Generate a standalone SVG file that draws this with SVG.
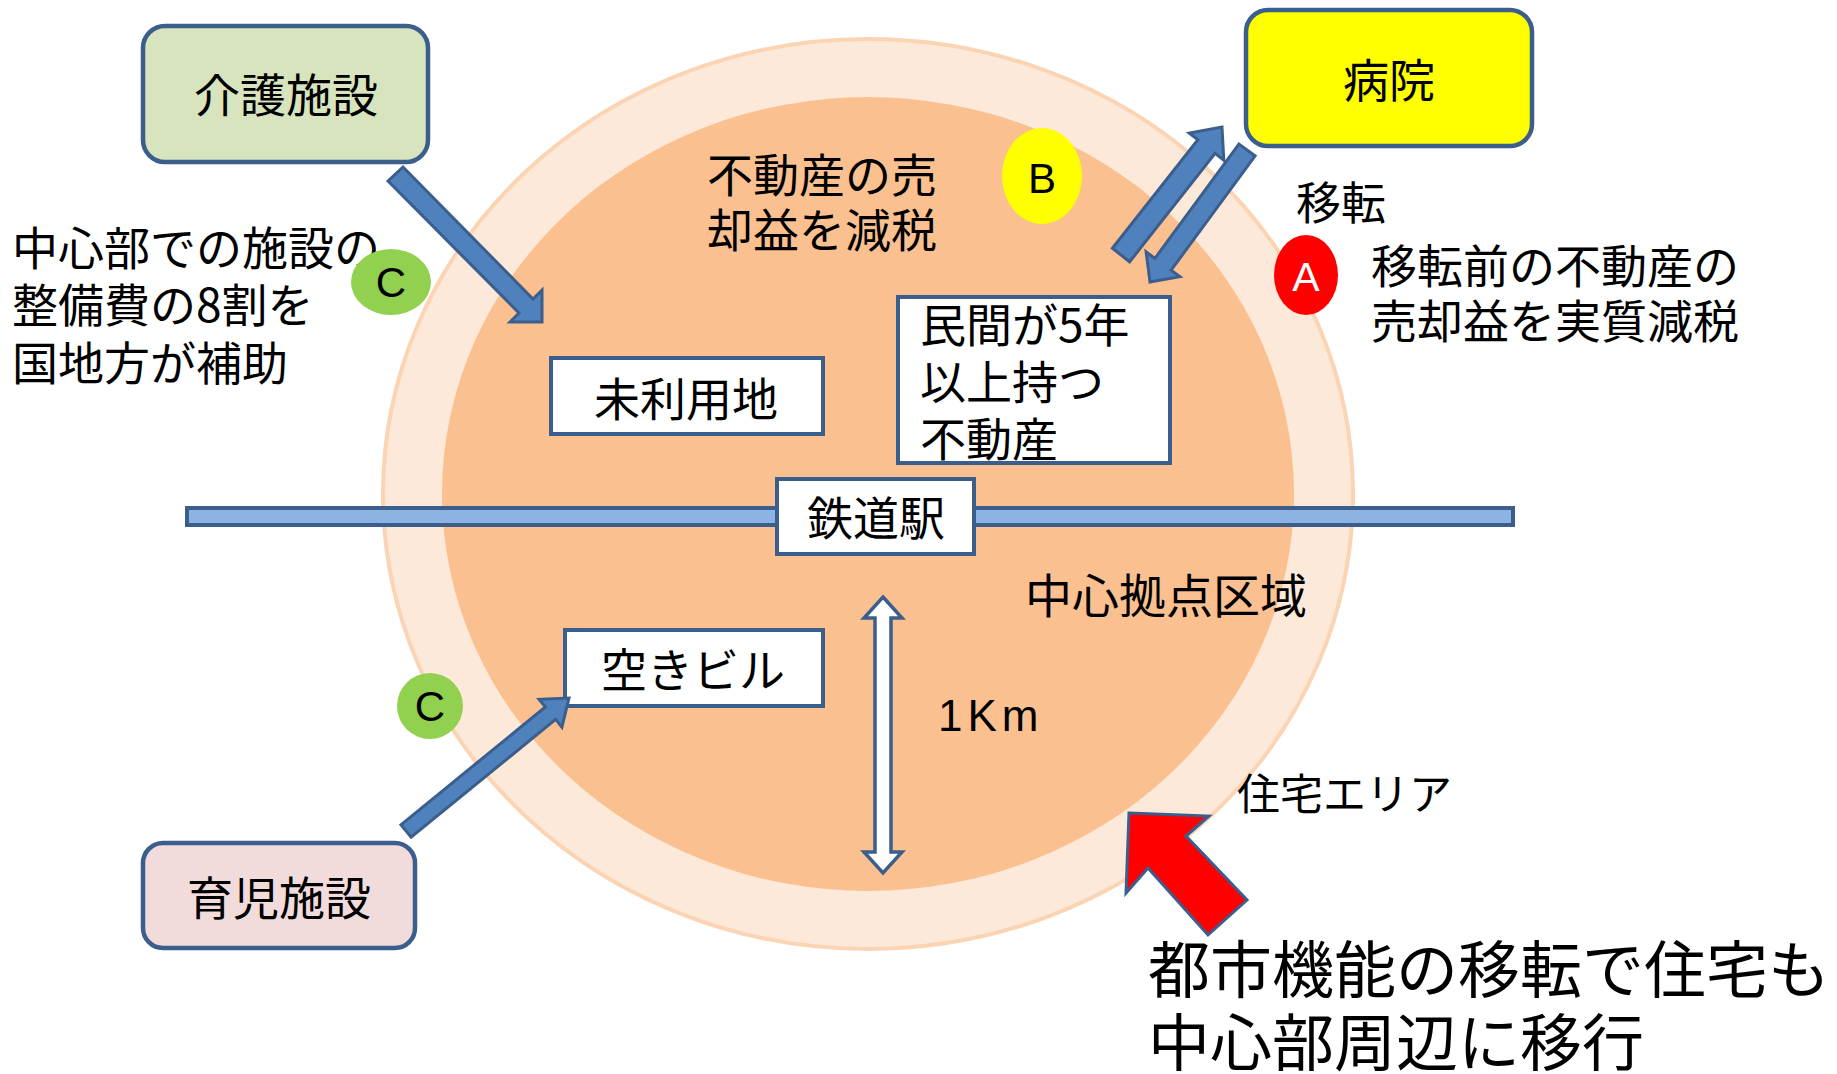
<svg xmlns="http://www.w3.org/2000/svg" width="1837" height="1074" viewBox="0 0 1837 1074">
<style>
.jp{font-family:"Noto Sans CJK JP","Noto Sans",sans-serif;fill:#000;}
.lat{font-family:"Liberation Sans",Arial,sans-serif;fill:#000;}
.box{fill:#fff;stroke:#3B5E8C;stroke-width:4;}
.rbox{stroke:#3B5E8C;stroke-width:4.5;}
.barrow{fill:#4F81BD;stroke:#3B5E8C;stroke-width:3;stroke-linejoin:miter;}
</style>
<rect width="1837" height="1074" fill="#fff"/>
<g id="residential-area">
<ellipse cx="868" cy="494" rx="485" ry="455" fill="#FDE9D9" stroke="#FBD4B4" stroke-width="4"/>
</g>
<g id="center-area">
<ellipse cx="868" cy="494" rx="426" ry="397" fill="#FAC090"/>
</g>
<g id="rail">
<rect x="187" y="508" width="1326" height="17" fill="#8DB3E2" stroke="#3B5E8C" stroke-width="4"/>
</g>
<g id="labels">
<text class="jp" font-size="46" x="12" y="265">中心部での施設の</text>
<text class="jp" font-size="46" x="12" y="322">整備費の8割を</text>
<text class="jp" font-size="46" x="12" y="380">国地方が補助</text>
<text class="jp" font-size="46" x="707" y="192">不動産の売</text>
<text class="jp" font-size="46" x="707" y="247">却益を減税</text>
<text class="jp" font-size="45" x="1296" y="220">移転</text>
<text class="jp" font-size="46" x="1371" y="283">移転前の不動産の</text>
<text class="jp" font-size="46" x="1371" y="338">売却益を実質減税</text>
<text class="jp" font-size="47" x="1025" y="613">中心拠点区域</text>
<text class="jp" font-size="43" x="1237" y="810">住宅エリア</text>
<text class="lat" font-size="44" x="938" y="731" letter-spacing="5">1Km</text>
<text class="jp" font-size="62" x="1148" y="993">都市機能の移転で住宅も</text>
<text class="jp" font-size="62" x="1148" y="1066">中心部周辺に移行</text>
</g>
<g id="badge-c1">
<ellipse cx="391" cy="282" rx="40" ry="33" fill="#92D050"/>
<text class="lat" font-size="42" x="391" y="297" text-anchor="middle">C</text>
</g>
<g id="badge-c2">
<ellipse cx="430" cy="706" rx="33" ry="33" fill="#92D050"/>
<text class="lat" font-size="42" x="430" y="721" text-anchor="middle">C</text>
</g>
<g id="badge-b">
<ellipse cx="1042" cy="176" rx="40" ry="48" fill="#FFFF00"/>
<text class="lat" font-size="42" x="1042" y="193" text-anchor="middle">B</text>
</g>
<g id="badge-a">
<ellipse cx="1306" cy="275" rx="32" ry="40" fill="#FF0000"/>
<text class="lat" font-size="41" x="1306" y="291" text-anchor="middle" style="fill:#fff">A</text>
</g>
<g id="node-kaigo">
<rect class="rbox" x="143" y="26" width="285" height="136" rx="22" fill="#D7E4BD"/>
<text class="jp" font-size="46" x="286" y="112" text-anchor="middle">介護施設</text>
</g>
<g id="node-byoin">
<rect class="rbox" x="1246" y="10" width="286" height="136" rx="22" fill="#FFFF00"/>
<text class="jp" font-size="46" x="1389" y="97" text-anchor="middle">病院</text>
</g>
<g id="node-ikuji">
<rect class="rbox" x="143" y="843" width="272" height="105" rx="20" fill="#F2DCDB"/>
<text class="jp" font-size="46" x="279" y="915" text-anchor="middle">育児施設</text>
</g>
<g id="node-miriyo">
<rect class="box" x="551" y="358" width="272" height="76"/>
<text class="jp" font-size="46" x="686" y="416" text-anchor="middle">未利用地</text>
</g>
<g id="node-minkan">
<rect class="box" x="898" y="297" width="272" height="166"/>
<text class="jp" font-size="46" x="920" y="342">民間が5年</text>
<text class="jp" font-size="46" x="920" y="399">以上持つ</text>
<text class="jp" font-size="46" x="920" y="456">不動産</text>
</g>
<g id="node-akibiru">
<rect class="box" x="565" y="630" width="258" height="76"/>
<text class="jp" font-size="46" x="693" y="687" text-anchor="middle">空きビル</text>
</g>
<g id="node-station">
<rect class="box" x="777" y="479" width="197" height="75"/>
<text class="jp" font-size="46" x="876" y="535" text-anchor="middle">鉄道駅</text>
</g>
<g id="connectors">
<polygon class="barrow" points="388,181 519,313 510,322 542,322 542,290 533,299 403,167"/>
<polygon class="barrow" points="400.9,824.8 545.4,707 539.1,699.3 569,698 561.9,727.1 555.6,719.4 411.1,837.2"/>
<polygon class="barrow" points="1112.4,248.2 1197.9,139.8 1189.2,133 1222,127 1223.8,160.2 1215.1,153.4 1129.6,261.8"/>
<polygon class="barrow" points="1238.9,144.1 1154.9,258.4 1146.1,251.9 1150,282 1179.9,276.7 1171.1,270.2 1255.1,155.9"/>
<polygon points="883,597 902,618 891,618 891,852 902,852 883,873 864,852 875,852 875,618 864,618" fill="#fff" stroke="#3B5E8C" stroke-width="3.5"/>
<polygon points="1129,813 1209,816 1186,836 1247,900 1208,935 1148,868 1126,893" fill="#FF0000" stroke="#3B5E8C" stroke-width="3"/>
</g>
</svg>
